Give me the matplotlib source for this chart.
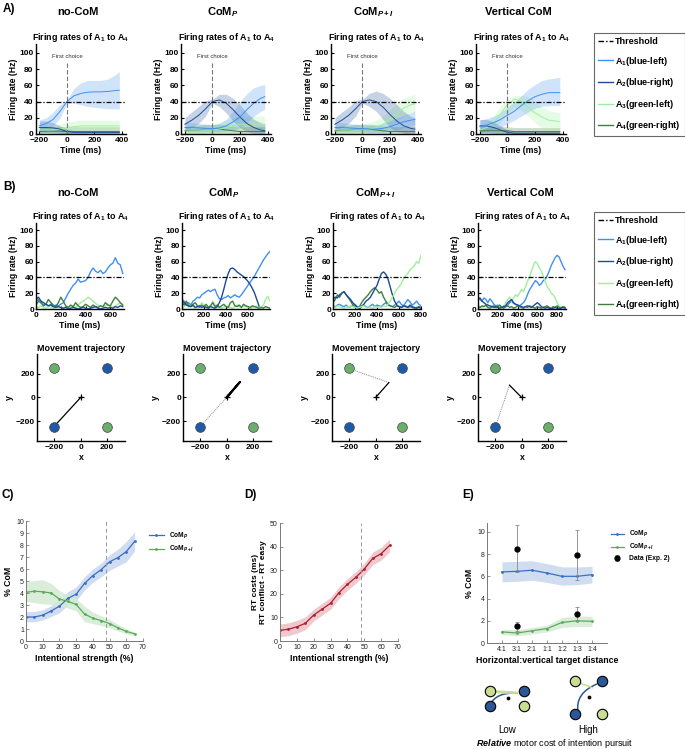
import numpy as np
import matplotlib.pyplot as plt
from matplotlib.lines import Line2D
from matplotlib.path import Path
from matplotlib.patches import PathPatch

plt.rcParams['font.family'] = ['Liberation Sans', 'DejaVu Sans']
plt.rcParams['mathtext.fontset'] = 'custom'
plt.rcParams['mathtext.rm'] = 'Liberation Sans:bold'
plt.rcParams['mathtext.it'] = 'Liberation Sans:italic:bold'
plt.rcParams['mathtext.bf'] = 'Liberation Sans:bold'

# ---------------- data ----------------
conditions = ['no-CoM', 'CoM$_{P}$', 'CoM$_{P+I}$', 'Vertical CoM']
threshold = 40
first_choice_t = 0

# A) averaged firing rates (A1, A2, A3, A4), mean and band
a_t = [-200, -150, -100, -50, 0, 50, 100, 150, 200, 250, 300, 350, 380]

fr_nocom_mean = [[10, 13, 18, 28, 40, 47, 50, 51.5, 52, 52, 52.5, 53.5, 54],
                 [8, 8, 7.5, 6, 3, 2, 2, 2, 2, 2, 2, 2, 2],
                 [5, 5, 5, 6, 8, 9, 10, 10, 10, 10, 10, 10, 10],
                 [3, 3.5, 3.5, 3.5, 3, 3, 3, 3, 3, 3, 3, 3, 3]]
fr_nocom_lo = [[4, 6, 10, 20, 38, 38, 36, 34, 33, 32, 31, 31, 31],
               [2, 2, 2, 1, 0, 0, 0, 0, 0, 0, 0, 0, 0],
               [1, 1, 1, 2, 3, 4, 5, 5, 4, 4, 4, 4, 4],
               [0, 0, 0, 0, 0, 0, 0, 0, 0, 0, 0, 0, 0]]
fr_nocom_hi = [[17, 20, 27, 36, 42, 56, 63, 66, 66, 66, 68, 73, 77],
               [16, 16, 14, 10, 6, 4, 4, 4, 4, 4, 4, 4, 4],
               [10, 10, 10, 12, 15, 16, 17, 17, 17, 17, 17, 17, 17],
               [8, 9, 9, 9, 9, 9, 9, 9, 9, 9, 9, 9, 9]]

fr_comp_mean = [[8, 8, 7.5, 7, 6.5, 7.5, 10, 15, 21, 30, 38, 44, 46],
                [12, 17, 23, 31, 40, 42, 38, 30, 21, 13, 8, 5, 4],
                [5, 5, 5, 5, 5, 6, 8, 10, 12, 12, 12, 12, 12],
                [4, 5, 5, 6, 6, 6, 5, 4, 3, 3, 3, 3, 3]]
fr_comp_lo = [[3, 3, 3, 3, 3, 3, 4, 5, 8, 14, 22, 28, 30],
              [4, 8, 13, 22, 38, 34, 26, 16, 8, 3, 1, 0, 0],
              [1, 1, 1, 1, 1, 1, 2, 3, 4, 4, 4, 4, 4],
              [0, 0, 0, 1, 1, 1, 1, 0, 0, 0, 0, 0, 0]]
fr_comp_hi = [[14, 14, 13, 12, 11, 13, 18, 28, 40, 50, 57, 60, 61],
              [20, 27, 34, 41, 43, 49, 49, 44, 36, 26, 18, 14, 12],
              [10, 10, 10, 10, 12, 14, 17, 20, 22, 22, 22, 22, 22],
              [9, 10, 11, 12, 12, 12, 11, 10, 9, 9, 9, 9, 9]]

fr_compi_mean = [[8, 8, 7.5, 7, 6.5, 6, 6, 7, 9, 12, 15, 17, 18],
                 [12, 17, 23, 31, 40, 42, 40, 33, 24, 16, 10, 7, 6],
                 [5, 5, 5, 5, 5, 6, 8, 12, 18, 25, 32, 36, 37],
                 [4, 5, 5, 6, 6, 6, 5, 4, 3, 3, 3, 3, 3]]
fr_compi_lo = [[3, 3, 3, 3, 3, 2, 2, 2, 3, 5, 8, 10, 11],
               [4, 8, 13, 22, 38, 34, 28, 18, 8, 3, 1, 0, 0],
               [1, 1, 1, 1, 1, 1, 2, 4, 8, 15, 22, 26, 27],
               [0, 0, 0, 1, 1, 1, 1, 0, 0, 0, 0, 0, 0]]
fr_compi_hi = [[14, 14, 13, 12, 11, 11, 11, 13, 16, 20, 23, 26, 28],
               [20, 27, 33, 41, 43, 50, 53, 50, 44, 36, 28, 22, 20],
               [10, 10, 10, 10, 12, 14, 17, 22, 30, 38, 44, 47, 50],
               [9, 10, 11, 12, 12, 12, 11, 10, 9, 9, 9, 9, 9]]

fr_vert_mean = [[9, 11, 14, 18, 23, 28, 35, 41, 46, 49, 51, 51, 51],
                [10, 10, 8, 5, 2, 1, 1, 1, 1, 1, 1, 1, 1],
                [5, 8, 14, 25, 36, 43, 40, 33, 26, 21, 17, 16, 15],
                [4, 4, 4, 4, 4, 3, 3, 3, 3, 3, 3, 3, 3]]
fr_vert_lo = [[2, 3, 5, 8, 13, 17, 22, 27, 32, 34, 35, 35, 35],
              [2, 2, 1, 0, 0, 0, 0, 0, 0, 0, 0, 0, 0],
              [1, 2, 5, 14, 26, 33, 29, 22, 14, 8, 4, 3, 3],
              [0, 0, 0, 0, 0, 0, 0, 0, 0, 0, 0, 0, 0]]
fr_vert_hi = [[17, 19, 22, 26, 33, 40, 47, 55, 61, 66, 68, 69, 70],
              [18, 18, 15, 10, 5, 4, 3, 3, 3, 3, 3, 3, 3],
              [10, 14, 22, 34, 44, 47, 48, 46, 40, 34, 29, 27, 27],
              [9, 9, 9, 9, 9, 8, 8, 8, 8, 8, 8, 8, 8]]

# B) single-trial firing rates, sampled every 20 ms
sample_ms = 20
nan = np.nan
b1_rates = [[10, 12, 8, 5, 6, 4, 6, 3, 5, 4, 6, 8, 14, 20, 25, 30, 33, 38, 34, 35,
             36, 40, 47, 52, 48, 46, 49, 45, 47, 52, 56, 58, 65, 58, 56, 45],
            [12, 15, 10, 8, 6, 4, 5, 3, 2, 3, 2, 1, 2, 0, 1, 2, 1, 0, 1, 2,
             1, 0, 1, 2, 3, 1, 0, 1, 2, 1, 2, 1, 3, 2, 4, 3],
            [3, 2, 4, 2, 1, 3, 2, 1, 2, 3, 2, 1, 3, 2, 4, 3, 2, 5, 8, 10,
             12, 15, 13, 10, 7, 5, 4, 3, 4, 6, 3, 2, 4, 6, 8, 5],
            [5, 10, 8, 4, 6, 12, 8, 5, 3, 8, 15, 10, 4, 2, 5, 3, 8, 4, 2, 3,
             6, 4, 2, 5, 3, 2, 4, 3, 8, 5, 4, 10, 15, 12, 8, 5]]
b2_rates = [[12, 10, 6, 8, 5, 10, 12, 15, 14, 18, 20, 22, 24, 22, 24, 25, 18, 13, 12, 14,
             15, 17, 14, 16, 18, 16, 15, 18, 22, 26, 30, 34, 38, 42, 47, 52, 57, 62, 66, 70, 73],
            [10, 8, 5, 4, 3, 5, 2, 3, 4, 2, 3, 2, 1, 3, 2, 1, 3, 8, 15, 25,
             36, 45, 51, 52, 50, 47, 45, 43, 41, 38, 35, 31, 26, 20, 12, 4, nan, nan, nan, nan, nan],
            [2, 3, 5, 2, 4, 3, 1, 2, 4, 8, 5, 3, 2, 4, 10, 5, 2, 3, 1, 2,
             4, 3, 2, 1, 3, 5, 3, 2, 4, 3, 2, 1, 2, 3, 4, 3, 2, 5, 12, 16, 10],
            [8, 5, 10, 4, 3, 6, 8, 4, 2, 5, 3, 6, 2, 4, 8, 3, 5, 2, 4, 6,
             3, 2, 8, 10, 4, 3, 5, 2, 6, 4, 3, 2, 4, 3, 2, 1, 2, 1, 3, 2, 1]]
b3_rates = [[4, 3, 5, 6, 4, 3, 5, 2, 3, 4, 6, 3, 2, 4, 5, 3, 2, 4, 6, 3,
             5, 4, 3, 6, 8, 5, 4, 3, 5, 7, 10, 6, 4, 8, 12, 9, 5, 7, 10, 6, 4],
            [12, 15, 14, 18, 20, 22, 18, 15, 12, 8, 5, 2, 0, 3, 6, 10, 12, 15, 20, 25,
             30, 38, 45, 47, 44, 38, 28, 18, 10, 5, 3, 2, 4, 3, 2, 5, 3, 2, 1, 2, 1],
            [3, 2, 4, 3, 2, 1, 3, 2, 4, 3, 2, 1, 2, 3, 4, 2, 3, 2, 1, 3,
             2, 3, 2, 4, 3, 6, 10, 15, 20, 25, 28, 32, 38, 42, 45, 50, 52, 55, 60, 58, 68],
            [8, 12, 18, 15, 20, 22, 18, 14, 10, 5, 2, 1, 3, 8, 12, 15, 18, 22, 25, 27,
             24, 20, 22, 15, 10, 6, 4, 3, 2, 4, 3, 2, 3, 4, 2, 3, 2, 1, 2, 3, 2]]
b4_rates = [[15, 12, 10, 14, 12, 8, 13, 10, 6, 4, 5, 3, 2, 4, 3, 5, 8, 10, 7, 6,
             5, 4, 6, 8, 12, 18, 24, 28, 32, 36, 34, 30, 32, 36, 38, 42, 48, 55, 60, 65,
             68, 66, 60, 54, 50],
            [12, 14, 10, 8, 6, 5, 4, 3, 2, 3, 2, 1, 2, 3, 4, 8, 10, 12, 8, 6,
             5, 4, 3, 2, 3, 4, 3, 2, 4, 6, 8, 6, 3, 2, 1, 2, 1, 0, 1, 2,
             1, 0, 1, 2, 1],
            [5, 3, 2, 4, 3, 2, 3, 4, 2, 3, 2, 4, 3, 2, 8, 12, 15, 10, 14, 18,
             16, 20, 25, 22, 28, 35, 40, 48, 55, 60, 58, 52, 48, 42, 35, 28, 25, 20, 18, 14,
             8, 4, 2, 3, 2],
            [3, 2, 4, 3, 5, 2, 1, 3, 4, 2, 3, 5, 2, 1, 3, 4, 2, 3, 1, 2,
             4, 3, 2, 1, 3, 2, 4, 3, 2, 1, 3, 2, 1, 2, 3, 4, 2, 1, 3, 2,
             4, 2, 1, 3, 2]]
b_xmax = [710, 800, 800, 890]
b_xticks = [[0, 200, 400, 600], [0, 200, 400, 600], [0, 200, 400, 600, 800], [0, 200, 400, 600, 800]]

# movement trajectories
target_x = [-200, 200, -200, 200]
target_y = [245, 245, -245, -245]
traj_solid = [([0, -185], [0, -225]), ([0, 100, 0], [0, 131, 0]),
              ([0, 100], [0, 126]), ([0, -92], [0, 104])]
traj_dotted = [([-185, -195], [-225, -237]), ([0, -195], [0, -237]),
               ([100, -195], [126, 242]), ([-92, -195], [104, -237])]

# C) & D)
strength = [0, 5, 10, 15, 20, 25, 30, 35, 40, 45, 50, 55, 60, 65]
com_p = [2.0, 2.0, 2.15, 2.5, 2.9, 3.55, 3.9, 4.8, 5.45, 5.95, 6.6, 6.95, 7.45, 8.3]
com_p_lo = [1.6, 1.6, 1.75, 2.05, 2.35, 3.0, 3.35, 4.25, 4.9, 5.35, 5.9, 6.25, 6.6, 7.5]
com_p_hi = [2.45, 2.45, 2.6, 2.95, 3.45, 4.1, 4.5, 5.35, 6.0, 6.5, 7.2, 7.65, 8.3, 9.1]
com_pi = [4.05, 4.15, 4.1, 4.0, 3.5, 3.3, 3.05, 2.25, 1.9, 1.7, 1.45, 1.1, 0.8, 0.6]
com_pi_lo = [3.3, 3.2, 3.1, 3.05, 2.9, 2.75, 2.5, 1.6, 1.45, 1.3, 1.1, 0.85, 0.6, 0.45]
com_pi_hi = [4.9, 5.05, 5.1, 4.8, 4.2, 3.85, 3.55, 2.9, 2.4, 2.1, 1.8, 1.4, 1.0, 0.75]
rt_cost = [4.5, 5.0, 6.0, 7.5, 11.0, 13.5, 16.0, 20.5, 24.0, 27.0, 30.5, 35.0, 37.0, 40.5]
rt_cost_lo = [1.8, 2.3, 3.3, 4.8, 8.5, 11.0, 13.5, 18.0, 21.5, 24.5, 28.0, 32.3, 34.3, 37.8]
rt_cost_hi = [7.2, 7.7, 8.7, 10.2, 13.5, 16.0, 18.5, 23.0, 26.5, 29.5, 33.0, 37.7, 39.7, 43.2]
strength_marker = 48

# E)
ratio_labels = ['4:1', '3:1', '2:1', '1:1', '1:2', '1:3', '1:4']
ratio_pos = [1, 2, 3, 4, 5, 6, 7]
e_p = [6.4, 6.45, 6.55, 6.3, 6.0, 6.0, 6.15]
e_p_lo = [5.5, 5.55, 5.65, 5.45, 5.2, 5.25, 5.4]
e_p_hi = [7.3, 7.35, 7.4, 7.15, 6.85, 6.85, 6.9]
e_pi = [1.0, 0.9, 1.1, 1.3, 1.85, 2.0, 1.95]
e_pi_lo = [0.75, 0.65, 0.8, 1.0, 1.4, 1.5, 1.5]
e_pi_hi = [1.25, 1.2, 1.4, 1.6, 2.3, 2.45, 2.4]
exp2_pos = [2, 2, 6, 6]
exp2_val = [8.5, 1.5, 7.9, 2.6]
exp2_err = [2.1, 0.4, 2.25, 0.65]

# ---------------- style ----------------
c_rate = ['#4090f0', '#1c4c98', '#9ff09a', '#3f7f3f']
c_target = {200: '#1f5aa8', -200: '#6cae6c'}
c_blue, c_blue_band = '#3a6ec4', '#c8d7ee'
c_green, c_green_band = '#5aab5a', '#d4ead4'
c_red, c_red_band = '#b01c2e', '#edc5ca'
dashdot = (0, (4, 1.5, 1, 1.5))

W, H = 685, 749
fig = plt.figure(figsize=(W / 100, H / 100), dpi=100)


def px_axes(l, t, w, h):
    return fig.add_axes([l / W, 1 - (t + h) / H, w / W, h / H])


def ftext(x, y, s, **kw):
    kw.setdefault('ha', 'center')
    kw.setdefault('va', 'center')
    fig.text(x / W, 1 - y / H, s, **kw)


def matlab_style(ax, bold=True, size=6, lw=1.0, col='black', tcol='black'):
    for side in ['top', 'right']:
        ax.spines[side].set_visible(False)
    for side in ['left', 'bottom']:
        ax.spines[side].set_linewidth(lw)
        ax.spines[side].set_color(col)
    ax.tick_params(direction='in', length=2, width=lw * 0.8, labelsize=size, pad=1.5,
                   colors=col, labelcolor=tcol)
    ax.tick_params(axis='x', pad=2.5)
    if bold:
        for lab in ax.get_xticklabels() + ax.get_yticklabels():
            lab.set_fontweight('bold')


def rate_legend(top):
    handles = [Line2D([], [], color='black', ls=dashdot, lw=1.0)]
    handles += [Line2D([], [], color=c, lw=1.0) for c in c_rate]
    labels = ['Threshold', 'A$_1$(blue-left)', 'A$_2$(blue-right)',
              'A$_3$(green-left)', 'A$_4$(green-right)']
    leg = fig.legend(handles, labels, loc='upper left', bbox_to_anchor=(594 / W, 1 - top / H),
                     prop={'weight': 'bold', 'size': 6.5}, frameon=True, fancybox=False,
                     edgecolor='#444444', handlelength=1.7, handletextpad=0.2,
                     labelspacing=0.95, borderpad=0.45, borderaxespad=0)
    leg.get_frame().set_linewidth(0.8)


# ---------------- A) ----------------
ftext(9, 9, 'A)', fontsize=8.5, fontweight='bold')
a_lefts = [35.5, 181, 331, 476]
a_sets = [(fr_nocom_mean, fr_nocom_lo, fr_nocom_hi), (fr_comp_mean, fr_comp_lo, fr_comp_hi),
          (fr_compi_mean, fr_compi_lo, fr_compi_hi), (fr_vert_mean, fr_vert_lo, fr_vert_hi)]
for k, (left, (mean, lo, hi)) in enumerate(zip(a_lefts, a_sets)):
    ax = px_axes(left, 44, 90, 90)
    for i in [3, 2, 1, 0]:
        ax.fill_between(a_t, lo[i], hi[i], color=c_rate[i], alpha=0.25, lw=0)
    for i in [3, 2, 1, 0]:
        ax.plot(a_t, mean[i], color=c_rate[i], lw=0.7)
    ax.axhline(threshold, color='black', ls=dashdot, lw=0.9)
    ax.plot([first_choice_t, first_choice_t], [0, 88], color='#777777', ls=(0, (4, 2)), lw=0.8)
    ax.text(first_choice_t, 95, 'First choice', fontsize=4.3, ha='center', va='center', color='#333333')
    ax.set_xlim(-228, 425)
    ax.set_ylim(0, 111)
    ax.set_xticks([-200, 0, 200, 400])
    ax.set_yticks([0, 20, 40, 60, 80, 100])
    ax.set_xlabel('Time (ms)', fontsize=6.3, fontweight='bold', labelpad=1)
    ax.set_ylabel('Firing rate (Hz)', fontsize=6.2, fontweight='bold', labelpad=1)
    ax.set_title('Firing rates of A$_1$ to A$_4$', fontsize=6.4, fontweight='bold', pad=3)
    matlab_style(ax)
    ftext(left + 42, 12, conditions[k], fontsize=8, fontweight='bold')
rate_legend(33)

# ---------------- B) ----------------
ftext(9, 187, 'B)', fontsize=8.5, fontweight='bold')
b_lefts = [36, 182, 333, 478]
traj_lefts = [37, 183, 332, 478]
for k, rates in enumerate([b1_rates, b2_rates, b3_rates, b4_rates]):
    ax = px_axes(b_lefts[k], 223, 88, 86)
    t = sample_ms * np.arange(len(rates[0]))
    for i in [0, 2, 3, 1] if k != 2 else [0, 3, 1, 2]:
        ax.plot(t, rates[i], color=c_rate[i], lw=1.0)
    ax.axhline(threshold, color='black', ls=dashdot, lw=0.9)
    ax.set_xlim(0, b_xmax[k])
    ax.set_ylim(0, 109)
    ax.set_xticks(b_xticks[k])
    ax.set_yticks([0, 20, 40, 60, 80, 100])
    ax.set_xlabel('Time (ms)', fontsize=6.3, fontweight='bold', labelpad=1)
    ax.set_ylabel('Firing rate (Hz)', fontsize=6.2, fontweight='bold', labelpad=1)
    ax.set_title('Firing rates of A$_1$ to A$_4$', fontsize=6.4, fontweight='bold', pad=3)
    matlab_style(ax)
    ftext(b_lefts[k] + 42, 193, conditions[k], fontsize=8, fontweight='bold')

    tx = px_axes(traj_lefts[k], 354, 88, 87)
    sx, sy = traj_solid[k]
    dx, dy = traj_dotted[k]
    tx.plot(dx, dy, color='#888888', ls=(0, (1, 1)), lw=0.7)
    tx.plot(sx, sy, color='black', lw=1.5 if k == 1 else 0.9)
    for x, y in zip(target_x, target_y):
        col = c_target[x] if y > 0 else c_target[-x]
        tx.plot(x, y, 'o', ms=7, color=col, mec='#444444', mew=0.5)
    tx.plot(0, 0, '+', color='black', ms=4, mew=0.9)
    tx.set_xlim(-330, 335)
    tx.set_ylim(-367, 367)
    tx.set_xticks([-200, 0, 200])
    tx.set_yticks([-200, 0, 200])
    tx.set_xlabel('x', fontsize=6.3, fontweight='bold', labelpad=1)
    tx.set_ylabel('y', fontsize=6.3, fontweight='bold', labelpad=1)
    tx.set_title('Movement trajectory', fontsize=6.4, fontweight='bold', pad=2)
    matlab_style(tx)
rate_legend(212)

# ---------------- C) ----------------
ftext(8, 495, 'C)', fontsize=8.5, fontweight='bold')
ax = px_axes(26, 521, 117, 120)
ax.fill_between(strength, com_p_lo, com_p_hi, color=c_blue_band, lw=0, alpha=0.85)
ax.fill_between(strength, com_pi_lo, com_pi_hi, color=c_green_band, lw=0, alpha=0.85)
ax.plot(strength, com_p, color=c_blue, lw=0.9, marker='.', ms=2, label='CoM$_{P}$')
ax.plot(strength, com_pi, color=c_green, lw=0.9, marker='.', ms=2, label='CoM$_{P+I}$')
ax.axvline(strength_marker, color='#999999', ls=(0, (4, 3)), lw=0.7)
ax.set_xlim(0, 70)
ax.set_ylim(0, 10)
ax.set_xticks(range(0, 71, 10))
ax.set_yticks(range(0, 11))
ax.set_xlabel('Intentional strength (%)', fontsize=6.3, fontweight='bold', labelpad=1.5)
ax.set_ylabel('% CoM', fontsize=6.3, fontweight='bold', labelpad=2)
matlab_style(ax, bold=False, size=5, lw=0.7, col='#777777', tcol='#222222')
ax.legend(loc='upper left', bbox_to_anchor=(1.0, 0.97), prop={'weight': 'bold', 'size': 4.8},
          frameon=False, handlelength=2.2, labelspacing=0.5)

# ---------------- D) ----------------
ftext(250, 495, 'D)', fontsize=8.5, fontweight='bold')
ax = px_axes(280, 523, 118, 118)
ax.fill_between(strength, rt_cost_lo, rt_cost_hi, color=c_red_band, lw=0, alpha=0.9)
ax.plot(strength, rt_cost, color=c_red, lw=0.9, marker='.', ms=2)
ax.axvline(strength_marker, color='#999999', ls=(0, (4, 3)), lw=0.7)
ax.set_xlim(0, 70)
ax.set_ylim(0, 50)
ax.set_xticks(range(0, 71, 10))
ax.set_yticks(range(0, 51, 10))
ax.set_xlabel('Intentional strength (%)', fontsize=6.3, fontweight='bold', labelpad=1.5)
ax.set_ylabel('RT costs (ms)\nRT conflict - RT easy', fontsize=6.0, fontweight='bold', labelpad=2)
matlab_style(ax, bold=False, size=5, lw=0.7, col='#777777', tcol='#222222')

# ---------------- E) ----------------
ftext(468, 495, 'E)', fontsize=8.5, fontweight='bold')
ax = px_axes(487, 523, 120, 120)
ax.fill_between(ratio_pos, e_p_lo, e_p_hi, color=c_blue_band, lw=0, alpha=0.85)
ax.fill_between(ratio_pos, e_pi_lo, e_pi_hi, color=c_green_band, lw=0, alpha=0.85)
ax.plot(ratio_pos, e_p, color=c_blue, lw=0.9, marker='.', ms=2, label='CoM$_{P}$')
ax.plot(ratio_pos, e_pi, color=c_green, lw=0.9, marker='.', ms=2, label='CoM$_{P+I}$')
ax.errorbar(exp2_pos, exp2_val, yerr=exp2_err, fmt='o', color='black', ms=3.5,
            ecolor='#888888', elinewidth=0.6, capsize=1.2, capthick=0.6, label='Data (Exp. 2)')
ax.set_xlim(0, 8)
ax.set_ylim(0, 10.8)
ax.set_xticks(ratio_pos)
ax.set_xticklabels(ratio_labels)
ax.set_yticks([0, 2, 4, 6, 8, 10])
ax.set_xlabel('Horizontal:vertical target distance', fontsize=6.3, fontweight='bold', labelpad=1.5)
ax.set_ylabel('% CoM', fontsize=6.3, fontweight='bold', labelpad=2)
matlab_style(ax, bold=False, size=5, lw=0.7, col='#777777', tcol='#222222')
ax.legend(loc='upper left', bbox_to_anchor=(0.98, 1.0), prop={'weight': 'bold', 'size': 4.8},
          frameon=False, handlelength=2.0, labelspacing=0.45)

# schematic of the target layouts
diag = px_axes(462, 662, 180, 62)
diag.set_xlim(0, 180)
diag.set_ylim(0, 62)
diag.axis('off')
c_light, c_dark = '#c8dc92', '#2b5796'
layouts = [(45, 26, 17, 7.5, 'Low'), (126, 27, 13.5, 16.5, 'High')]
for cx, cy, hx, hy, name in layouts:
    if name == 'Low':
        curves = [((cx - 17, cy - 7.5), (cx - 12, cy + 6), (cx + 11, cy + 5), c_dark),
                  ((cx - 12, cy + 7), (cx, cy + 6.5), (cx + 11, cy + 5.5), c_light),
                  ((cx - 12, cy + 6), (cx, cy + 4), (cx + 11, cy + 5), c_light)]
    else:
        curves = [((cx - 10, cy - 15), (cx - 13, cy + 4), (cx + 9, cy + 13), c_dark),
                  ((cx - 12, cy + 15), (cx - 2, cy + 12), (cx + 5, cy + 9), c_light)]
    for p0, p1, p2, col in curves:
        path = Path([p0, p1, p2], [Path.MOVETO, Path.CURVE3, Path.CURVE3])
        diag.add_patch(PathPatch(path, fc='none', ec=col, lw=1.1))
    diag.plot([cx - hx, cx + hx], [cy + hy, cy - hy], 'o', ms=7.5, color=c_light, mec='black', mew=0.8)
    diag.plot([cx + hx, cx - hx], [cy + hy, cy - hy], 'o', ms=7.5, color=c_dark, mec='black', mew=0.8)
    diag.plot(cx + 1, cy, 'o', ms=3, color='black', mec='white', mew=0.3)
    ftext(462 + cx, 730, name, fontsize=7)
ftext(555, 743, '$\\mathit{Relative}$ motor cost of intention pursuit', fontsize=6.5)

fig.savefig('out.png', dpi=100)
